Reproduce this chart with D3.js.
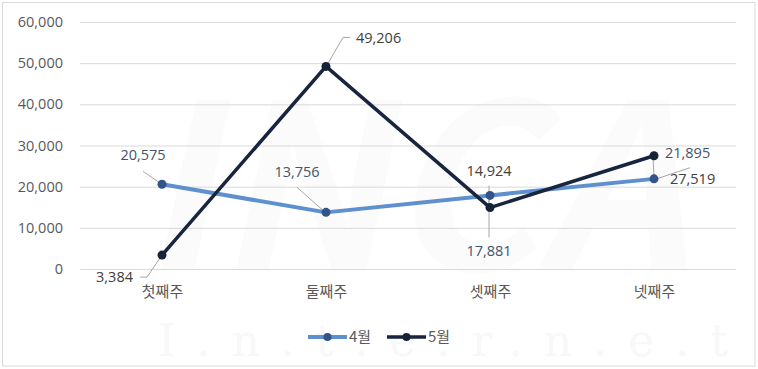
<!DOCTYPE html>
<head>
<meta charset="utf-8">
<style>
  body { margin: 0; background: #fff; }
  svg text { font-family: "Noto Sans CJK KR", "Noto Sans", sans-serif; }
</style>
</head>
<body>
<svg width="758" height="369" id="svgMain"></svg>
<script src="https://cdn.jsdelivr.net/npm/d3@7"></script>
<script>
// data
var weeks = ["첫째주", "둘째주", "셋째주", "넷째주"];
var seriesNames = ["4월", "5월"];
var april = [20575, 13756, 17881, 21895];
var may = [3384, 49206, 14924, 27519];
var yTicks = [0, 10000, 20000, 30000, 40000, 50000, 60000];

// label placement (offset from the point, leader line points)
var aprilLabels = [
  {dx: -19, dy: -29, anchor: "middle", lead: [[-19, -13], [-3, -2]]},
  {dx: -29, dy: -40, anchor: "middle", lead: [[-29, -25], [-3, -2]]},
  {dx: -1, dy: 56, anchor: "middle", lead: [[-1, 42], [-1, 4]]},
  {dx: 11, dy: -26, anchor: "start", lead: [[-1, -22], [0, -3]]}
];
var mayLabels = [
  {dx: -29, dy: 22, anchor: "end", lead: [[-22, 22], [-15, 22], [-2, 3]]},
  {dx: 30, dy: -29, anchor: "start", lead: [[24, -29], [17, -29], [2, -3]]},
  {dx: -1, dy: -37, anchor: "middle", lead: [[-1, -22], [-1, -3]]},
  {dx: 16, dy: 23, anchor: "start", lead: [[36, 12], [3, 23]]}
];

var svg = d3.select("svg");
var margin = {top: 22, right: 22, bottom: 100, left: 80};
var width = 736 - margin.left, height = 269 - margin.top;

var colors = {"4월": "#5e8fce", "5월": "#17253f"};
var markerColors = {"4월": "#33548a", "5월": "#152238"};
var labelColors = {"4월": "#44546a", "5월": "#404040"};

// border
svg.append("rect")
  .attr("x", 2.5).attr("y", 2.5).attr("width", 752.5).attr("height", 363.5)
  .attr("fill", "#fff").attr("stroke", "#d9d9d9");

// faint watermark
svg.append("text")
  .attr("x", 470).attr("y", 270)
  .attr("text-anchor", "middle")
  .attr("transform", "skewX(-12)")
  .style("font-size", "230px").style("font-weight", "bold")
  .attr("fill", "#fbfbfb")
  .text("INCA");
svg.append("text")
  .attr("x", 158).attr("y", 356)
  .attr("textLength", 570)
  .style("font-size", "44px")
  .style("font-family", "DejaVu Serif")
  .attr("fill", "#f8f8f8")
  .text("I.n.t.e.r.n.e.t");

var g = svg.append("g")
  .attr("transform", "translate(" + margin.left + "," + margin.top + ")");

var x = d3.scalePoint().domain(weeks).range([0, width]).padding(0.5);
var y = d3.scaleLinear().domain([0, 60000]).range([height, 0]);

// gridlines
g.append("g")
  .attr("class", "grid")
  .call(d3.axisLeft(y).tickValues(yTicks).tickSize(-width).tickFormat(""))
  .call(function(s) {
    s.select(".domain").remove();
    s.selectAll("line").attr("stroke", "#d9d9d9");
  });

// y axis labels
g.append("g")
  .call(d3.axisLeft(y).tickValues(yTicks).tickSize(0).tickPadding(17).tickFormat(d3.format(",")))
  .call(function(s) {
    s.select(".domain").remove();
    s.selectAll("text").attr("fill", "#595959").style("font-size", "14.5px")
      .style("font-family", "'Open Sans', 'Noto Sans', sans-serif");
  });

// x axis labels
g.append("g")
  .attr("transform", "translate(0," + height + ")")
  .call(d3.axisBottom(x).tickSize(0).tickPadding(17))
  .call(function(s) {
    s.select(".domain").remove();
    s.selectAll("text").attr("fill", "#595959").style("font-size", "15px");
  });

var series = [
  {name: "4월", values: april, labels: aprilLabels},
  {name: "5월", values: may, labels: mayLabels}
];

var line = d3.line()
  .x(function(d, i) { return x(weeks[i]); })
  .y(function(d) { return y(d); });

// leader lines
series.forEach(function(s) {
  s.values.forEach(function(v, i) {
    var px = x(weeks[i]), py = y(v), lb = s.labels[i];
    g.append("polyline")
      .attr("points", lb.lead.map(function(p) { return (px + p[0]) + "," + (py + p[1]); }).join(" "))
      .attr("fill", "none").attr("stroke", "#a6a6a6").attr("stroke-width", 1);
  });
});

var sg = g.selectAll(".series")
  .data(series)
  .enter().append("g")
  .attr("class", "series");

sg.append("path")
  .attr("d", function(d) { return line(d.values); })
  .attr("fill", "none")
  .attr("stroke", function(d) { return colors[d.name]; })
  .attr("stroke-width", function(d) { return d.name == "4월" ? 4 : 3.5; })
  .attr("stroke-linejoin", "round");

sg.selectAll("circle")
  .data(function(d) { return d.values.map(function(v) { return {name: d.name, v: v}; }); })
  .enter().append("circle")
  .attr("cx", function(d, i) { return x(weeks[i]); })
  .attr("cy", function(d) { return y(d.v); })
  .attr("r", 4.5)
  .attr("fill", function(d) { return markerColors[d.name]; });

// data labels
series.forEach(function(s) {
  s.values.forEach(function(v, i) {
    var lb = s.labels[i];
    g.append("text")
      .attr("x", x(weeks[i]) + lb.dx)
      .attr("y", y(v) + lb.dy)
      .attr("dy", "0.35em")
      .attr("text-anchor", lb.anchor)
      .attr("fill", labelColors[s.name])
      .style("font-size", "14.5px")
      .style("font-family", "'Open Sans', 'Noto Sans', sans-serif")
      .text(d3.format(",")(v));
  });
});

// legend
var legend = svg.append("g").attr("transform", "translate(308,337)");
var items = legend.selectAll(".item")
  .data(seriesNames)
  .enter().append("g")
  .attr("transform", function(d, i) { return "translate(" + (i * 79) + ",0)"; });
items.append("line")
  .attr("x1", 0).attr("x2", 39).attr("y1", 0).attr("y2", 0)
  .attr("stroke", function(d) { return colors[d]; })
  .attr("stroke-width", function(d) { return d == "4월" ? 4 : 3.5; });
items.append("circle")
  .attr("cx", 19.5).attr("cy", 0).attr("r", 4)
  .attr("fill", function(d) { return markerColors[d]; });
items.append("text")
  .attr("x", 41).attr("dy", "0.35em")
  .attr("fill", "#595959")
  .style("font-size", "15px")
  .text(function(d) { return d; });
</script>
</body>
